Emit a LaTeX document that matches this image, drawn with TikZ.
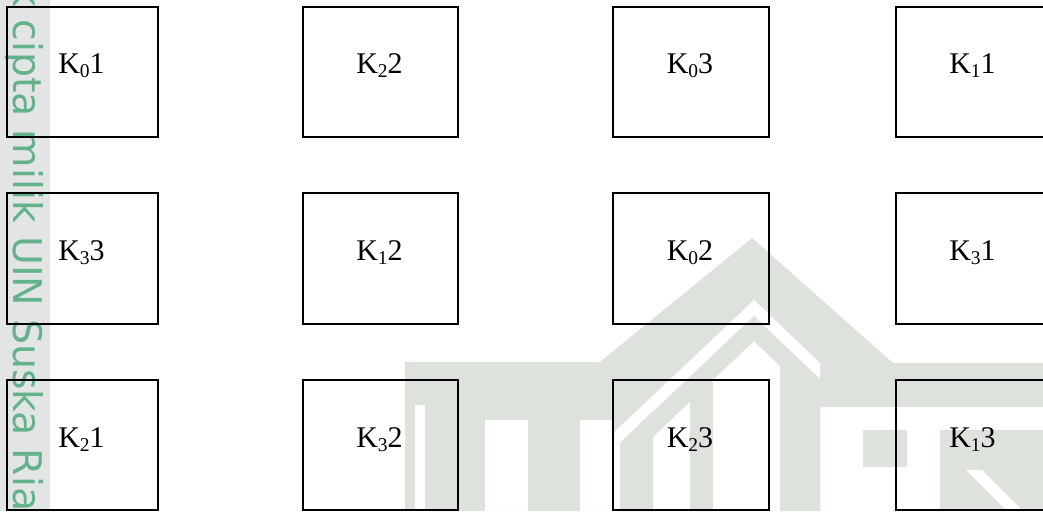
\documentclass[tikz,border=0pt]{standalone}
\usepackage{fontspec}
\usepackage{graphicx}
\setmainfont{Liberation Serif}
\newfontfamily\wmfont{DejaVu Sans}
\definecolor{logogray}{RGB}{222,226,221}
\definecolor{stripgray}{RGB}{226,229,227}
\definecolor{wmgreen}{RGB}{100,178,140}
% K with a lowered subscript digit, then the trailing digit
\newcommand{\Ksub}[2]{K{\fontsize{19.5}{20}\selectfont\raisebox{-4pt}{#1}}#2}

\begin{document}
\begin{tikzpicture}[x=1pt,y=-1pt,
  cell/.style={draw=black, line width=2pt, inner sep=0pt, outer sep=0pt},
  lbl/.style={anchor=base, inner sep=0pt, font=\fontsize{30}{30}\selectfont, xshift=-1pt, yshift=-2pt},
  wm/.style={fill=logogray, draw=none},
  cut/.style={fill=white, draw=none}]
\useasboundingbox (0,0) rectangle (1043,511);
\clip (0,0) rectangle (1043,511);
\fill[white] (0,0) rectangle (1043,511);

% margin strip with the copyright line
\fill[stripgray] (0,0) rectangle (50,511);
\node[rotate=-90, anchor=base west, inner sep=0pt, text=wmgreen,
      font=\wmfont\fontsize{39.5}{40}\selectfont] (wmtext) at (13,-70) {Hak cipta milik UIN Suska Riau};

% faint emblem in the background: roof, inner chevron and pillars
\fill[wm] (405,362) -- (600,362) -- (752,238) -- (893,363) -- (1043,363)
  -- (1043,407) -- (820,407) -- (820,511) -- (405,511) -- cycle;
\fill[cut] (415,405) rectangle (425,511);
\fill[cut] (485,420) rectangle (528,511);
\fill[cut] (580,420) rectangle (613,511);
\fill[cut] (590,455) -- (754,300) -- (820,363) -- (820,511) -- (590,511) -- cycle;
\fill[wm] (620,443) -- (754,316) -- (780,341) -- (780,366) -- (754,341) -- (620,468) -- cycle;
\fill[wm] (620,443) -- (653,411) -- (653,511) -- (620,511) -- cycle;
\fill[wm] (690,382) rectangle (713,511);
\fill[wm] (780,341) -- (820,379) -- (820,511) -- (780,511) -- cycle;
\fill[wm] (863,430) rectangle (907,467);
\fill[wm] (940,430) rectangle (1043,511);
\fill[cut] (966,470) -- (982,470) -- (1023,511) -- (1007,511) -- cycle;

% grid of cells
\node[cell, minimum width=151pt, minimum height=130pt] (r1c1) at (82.5,72) {};
\node[cell, minimum width=155pt, minimum height=130pt] (r1c2) at (380.5,72) {};
\node[cell, minimum width=156pt, minimum height=130pt] (r1c3) at (691,72) {};
\node[cell, minimum width=155pt, minimum height=130pt] (r1c4) at (973.5,72) {};

\node[cell, minimum width=151pt, minimum height=131pt] (r2c1) at (82.5,258.5) {};
\node[cell, minimum width=155pt, minimum height=131pt] (r2c2) at (380.5,258.5) {};
\node[cell, minimum width=156pt, minimum height=131pt] (r2c3) at (691,258.5) {};
\node[cell, minimum width=155pt, minimum height=131pt] (r2c4) at (973.5,258.5) {};

\node[cell, minimum width=151pt, minimum height=130pt] (r3c1) at (82.5,445) {};
\node[cell, minimum width=155pt, minimum height=130pt] (r3c2) at (380.5,445) {};
\node[cell, minimum width=156pt, minimum height=130pt] (r3c3) at (691,445) {};
\node[cell, minimum width=155pt, minimum height=130pt] (r3c4) at (973.5,445) {};

% cell labels
\node[lbl] (l11) at (r1c1.center) {\Ksub{0}{1}};
\node[lbl] (l12) at (r1c2.center) {\Ksub{2}{2}};
\node[lbl] (l13) at (r1c3.center) {\Ksub{0}{3}};
\node[lbl] (l14) at (r1c4.center) {\Ksub{1}{1}};

\node[lbl] (l21) at (r2c1.center) {\Ksub{3}{3}};
\node[lbl] (l22) at (r2c2.center) {\Ksub{1}{2}};
\node[lbl] (l23) at (r2c3.center) {\Ksub{0}{2}};
\node[lbl] (l24) at (r2c4.center) {\Ksub{3}{1}};

\node[lbl] (l31) at (r3c1.center) {\Ksub{2}{1}};
\node[lbl] (l32) at (r3c2.center) {\Ksub{3}{2}};
\node[lbl] (l33) at (r3c3.center) {\Ksub{2}{3}};
\node[lbl] (l34) at (r3c4.center) {\Ksub{1}{3}};
\end{tikzpicture}
\end{document}
